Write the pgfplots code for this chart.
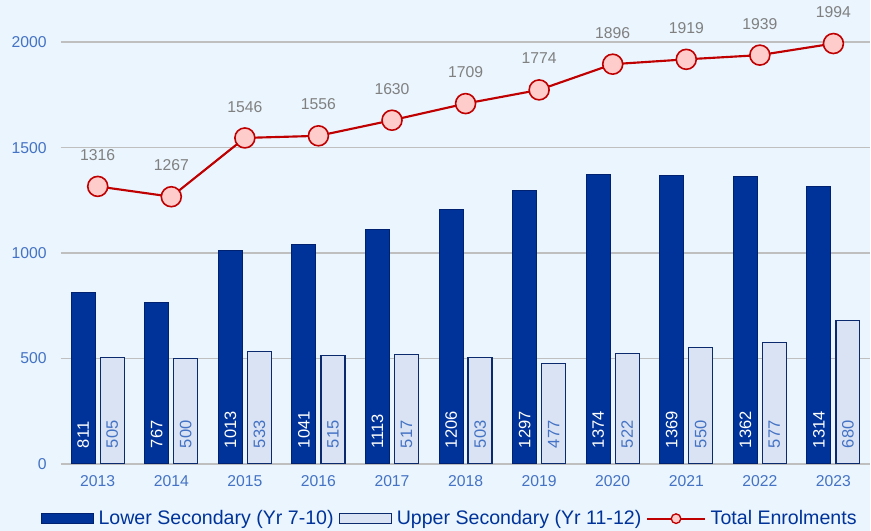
\documentclass[border=0pt]{standalone}
\usepackage{pgfplots}
\pgfplotsset{compat=1.18}
\usepackage{fontspec}
\setmainfont{Liberation Sans}
\definecolor{bgc}{HTML}{EAF5FE}
\definecolor{lowfill}{HTML}{003399}
\definecolor{lowedge}{HTML}{002070}
\definecolor{upfill}{HTML}{DAE3F3}
\definecolor{upedge}{HTML}{0B2A6E}
\definecolor{tickc}{HTML}{4472C4}
\definecolor{linec}{HTML}{C00000}
\definecolor{markc}{HTML}{FFCCCC}
\definecolor{lblc}{HTML}{808080}
\definecolor{legc}{HTML}{003399}
\definecolor{gridc}{HTML}{BFBFBF}
\begin{document}
\begin{tikzpicture}
\fill[bgc] (-45.75pt,-50.25pt) rectangle (607.5pt,348pt);
\begin{axis}[
  at={(0,0)}, anchor=south west,
  scale only axis, width=607.5pt, height=348pt,
  xmin=-0.5, xmax=10.5, ymin=0, ymax=2200,
  xtick={0,1,2,3,4,5,6,7,8,9,10},
  xticklabels={2013,2014,2015,2016,2017,2018,2019,2020,2021,2022,2023},
  ytick={0,500,1000,1500,2000},
  ymajorgrids, grid style={gridc, line width=1.2pt},
  axis line style={draw=none}, major tick length=0pt,
  tick label style={font=\fontsize{11.8}{14}\selectfont, text=tickc},
  /pgf/number format/assume math mode=true,
  /pgf/number format/1000 sep={},
  yticklabel style={xshift=-7.3pt},
  xticklabel style={yshift=-5.5pt},
  clip=false,
  legend columns=3,
  legend style={at={(0.479,-0.1185)}, anchor=center, draw=none, fill=none,
    /tikz/column sep=3.75pt,
    nodes={inner sep=0pt, text=legc, font=\fontsize{14.7}{17}\selectfont}},
]
\addplot[ybar, bar width=18pt, bar shift=-10.875pt, fill=lowfill, draw=lowedge, line width=0.8pt,
  legend image code/.code={\draw[fill=lowfill, draw=lowedge, line width=0.8pt] (0pt,-3.75pt) rectangle (39pt,3.75pt);}]
  coordinates {(0,811) (1,767) (2,1013) (3,1041) (4,1113) (5,1206) (6,1297) (7,1374) (8,1369) (9,1362) (10,1314)};
\addlegendentry{Lower Secondary (Yr 7-10)}
\addplot[ybar, bar width=18pt, bar shift=10.875pt, fill=upfill, draw=upedge, line width=0.9pt,
  legend image code/.code={\draw[fill=upfill, draw=upedge, line width=0.9pt] (0pt,-3.75pt) rectangle (39pt,3.75pt);}]
  coordinates {(0,505) (1,500) (2,533) (3,515) (4,517) (5,503) (6,477) (7,522) (8,550) (9,577) (10,680)};
\addlegendentry{Upper Secondary (Yr 11-12)}
\addplot[linec, line width=1.6pt, mark=*, mark size=7.5pt,
  mark options={fill=markc, draw=linec, line width=1.2pt},
  nodes near coords, nodes near coords style={text=lblc, font=\fontsize{11.8}{14}\selectfont, anchor=center, yshift=23.5pt},
  legend image code/.code={\draw[linec, line width=1.6pt] (0pt,0pt) -- (43pt,0pt);
    \draw[fill=markc, draw=linec, line width=1pt] (21.5pt,0pt) circle (3.6pt);}]
  coordinates {(0,1316) (1,1267) (2,1546) (3,1556) (4,1630) (5,1709) (6,1774) (7,1896) (8,1919) (9,1939) (10,1994)};
\addlegendentry{Total Enrolments}
\addplot[draw=none, mark=none, forget plot,
  point meta=explicit symbolic, nodes near coords,
  nodes near coords style={rotate=90, anchor=west, inner xsep=11.5pt, inner ysep=0pt, text=white, font=\fontsize{12.4}{14}\selectfont}]
  coordinates {(-0.197,0)[811] (0.803,0)[767] (1.803,0)[1013] (2.803,0)[1041] (3.803,0)[1113] (4.803,0)[1206] (5.803,0)[1297] (6.803,0)[1374] (7.803,0)[1369] (8.803,0)[1362] (9.803,0)[1314]};
\addplot[draw=none, mark=none, forget plot,
  point meta=explicit symbolic, nodes near coords,
  nodes near coords style={rotate=90, anchor=west, inner xsep=11.5pt, inner ysep=0pt, text=tickc, font=\fontsize{12.4}{14}\selectfont}]
  coordinates {(0.197,0)[505] (1.197,0)[500] (2.197,0)[533] (3.197,0)[515] (4.197,0)[517] (5.197,0)[503] (6.197,0)[477] (7.197,0)[522] (8.197,0)[550] (9.197,0)[577] (10.197,0)[680]};
\end{axis}
\end{tikzpicture}
\end{document}
